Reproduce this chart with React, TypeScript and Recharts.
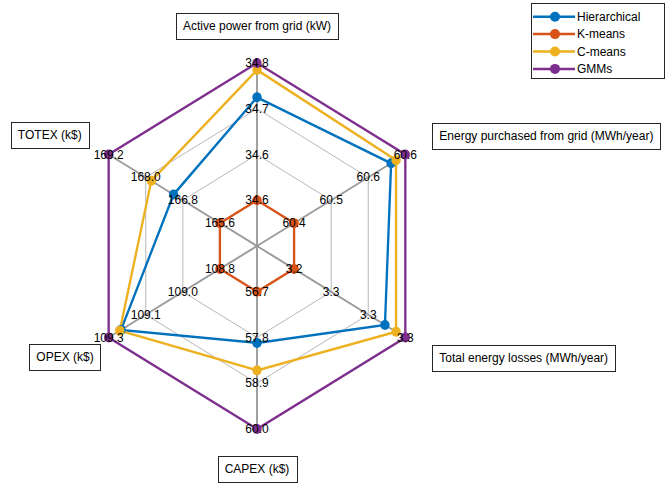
import { useLayoutEffect, useRef, useState } from "react";
import {
  Legend,
  PolarAngleAxis,
  PolarGrid,
  PolarRadiusAxis,
  Radar,
  RadarChart,
} from "recharts";

const axisTitles = [
  "Active power from grid (kW)",
  "Energy purchased from grid (MWh/year)",
  "Total energy losses (MWh/year)",
  "CAPEX (k$)",
  "OPEX (k$)",
  "TOTEX (k$)",
];

// value sitting on the first ring and on the outer ring of each axis
const axisMin = [34.57, 60.44, 3.22, 56.7, 108.82, 165.6];
const axisMax = [34.77, 60.62, 3.34, 60.0, 109.27, 169.2];

const tickLabels = [
  ["34.6", "34.6", "34.7", "34.8"],
  ["60.4", "60.5", "60.6", "60.6"],
  ["3.2", "3.3", "3.3", "3.3"],
  ["56.7", "57.8", "58.9", "60.0"],
  ["108.8", "109.0", "109.1", "109.3"],
  ["165.6", "166.8", "168.0", "169.2"],
];

const hierarchical = [34.72, 60.597, 3.318, 57.93, 109.22, 167.1];
const kMeans = [34.57, 60.44, 3.22, 56.7, 108.82, 165.6];
const cMeans = [34.76, 60.605, 3.33, 58.59, 109.225, 167.82];
const gmms = [34.77, 60.62, 3.34, 60.0, 109.27, 169.2];

const series = [
  { key: "Hierarchical", values: hierarchical, color: "#0072BD" },
  { key: "K-means", values: kMeans, color: "#D95319" },
  { key: "C-means", values: cMeans, color: "#EDB120" },
  { key: "GMMs", values: gmms, color: "#7E2F8E" },
];

const CX = 257;
const CY = 246;
const R = 183;
// the matlab figure is a bit narrower than a regular hexagon
const SQUISH = 0.936;
const FONT = '"Liberation Sans", Arial, Helvetica, sans-serif';

// where each boxed axis title sits relative to the outer vertex
const titlePlacement: { anchor: "start" | "middle" | "end"; dx: number; dy: number }[] = [
  { anchor: "middle", dx: 0, dy: -37 },
  { anchor: "start", dx: 27, dy: -19 },
  { anchor: "start", dx: 27, dy: 20.5 },
  { anchor: "middle", dx: 0, dy: 39.5 },
  { anchor: "end", dx: -8, dy: 19.5 },
  { anchor: "end", dx: -20, dy: -19.5 },
];

function toRing(axis: number, value: number) {
  return 1 + (3 * (value - axisMin[axis])) / (axisMax[axis] - axisMin[axis]);
}

const rows = axisTitles.map((title, i) => {
  const row: Record<string, string | number> = { axis: title };
  for (const s of series) {
    row[s.key] = toRing(i, s.values[i]);
  }
  return row;
});

function BoxedText({
  x,
  y,
  anchor,
  text,
}: {
  x: number;
  y: number;
  anchor: "start" | "middle" | "end";
  text: string;
}) {
  const ref = useRef<SVGTextElement>(null);
  const [width, setWidth] = useState(0);

  useLayoutEffect(() => {
    if (ref.current) setWidth(ref.current.getBBox().width);
  }, [text]);

  const padX = 7;
  const h = 26;
  const boxW = width + 2 * padX;
  const left =
    anchor === "start" ? x : anchor === "end" ? x - boxW : x - boxW / 2;

  return (
    <g>
      <rect
        x={Math.round(left) + 0.5}
        y={Math.round(y - h / 2) + 0.5}
        width={Math.round(boxW)}
        height={h}
        fill="#fff"
        stroke="#262626"
      />
      <text
        ref={ref}
        x={left + padX}
        y={y}
        dominantBaseline="central"
        fontSize={12}
        fontFamily={FONT}
        fill="#000"
      >
        {text}
      </text>
    </g>
  );
}

function AxisTick({ index }: { index: number }) {
  const angle = ((90 - index * 60) * Math.PI) / 180;
  const ux = Math.cos(angle) * SQUISH;
  const uy = -Math.sin(angle);
  const place = titlePlacement[index];

  return (
    <g>
      {tickLabels[index].map((label, k) => (
        <text
          key={k}
          x={CX + ((R * (k + 1)) / 4) * ux}
          y={CY + ((R * (k + 1)) / 4) * uy}
          textAnchor="middle"
          dominantBaseline="central"
          fontSize={12}
          fontFamily={FONT}
          fill="#000"
        >
          {label}
        </text>
      ))}
      <BoxedText
        x={CX + R * ux + place.dx}
        y={CY + R * uy + place.dy}
        anchor={place.anchor}
        text={axisTitles[index]}
      />
    </g>
  );
}

function LegendBox() {
  return (
    <svg width={134} height={76} style={{ display: "block" }}>
      <rect x={0.5} y={0.5} width={133} height={75} fill="#fff" stroke="#262626" />
      {series.map((s, i) => {
        const y = 13.7 + i * 17.4;
        return (
          <g key={s.key}>
            <line x1={2} x2={44} y1={y} y2={y} stroke={s.color} strokeWidth={2.5} />
            <circle cx={24} cy={y} r={5} fill={s.color} />
            <text
              x={46}
              y={y}
              dominantBaseline="central"
              fontSize={12}
              fontFamily={FONT}
              fill="#000"
            >
              {s.key}
            </text>
          </g>
        );
      })}
    </svg>
  );
}

export default function App() {
  return (
    <div
      className="spider"
      style={{
        position: "absolute",
        left: 0,
        top: 0,
        width: 666,
        height: 483,
        background: "#fff",
      }}
    >
      <style>{`
        .spider .recharts-polar-grid,
        .spider .recharts-radar,
        .spider .recharts-radar-dots:not(.recharts-radar .recharts-radar-dots) {
          transform: scaleX(${SQUISH});
          transform-origin: ${CX}px ${CY}px;
        }
      `}</style>
      <RadarChart
        width={666}
        height={483}
        cx={CX}
        cy={CY}
        outerRadius={R}
        data={rows}
        margin={{ top: 0, right: 0, bottom: 0, left: 0 }}
      >
        <PolarGrid
          gridType="polygon"
          polarRadius={[R / 4, R / 2, (3 * R) / 4, R]}
          radialLines={false}
          stroke="#b4b4b4"
          strokeWidth={1}
        />
        <PolarGrid
          gridType="polygon"
          polarRadius={[]}
          stroke="#9a9a9a"
          strokeWidth={2}
        />
        <PolarRadiusAxis domain={[0, 4]} tick={false} axisLine={false} />
        {series.map((s) => (
          <Radar
            dataKey={s.key}
            dot={{
              r: 5,
              fill: s.color,
              fillOpacity: 1,
              stroke: s.color,
              strokeWidth: 0,
            }}
            fill="none"
            fillOpacity={0}
            isAnimationActive={false}
            key={s.key}
            name={s.key}
            stroke={s.color}
            strokeWidth={2.5}
          />
        ))}
        <PolarAngleAxis
          dataKey="axis"
          axisLine={false}
          tickLine={false}
          tick={(props: any) => <AxisTick index={props.index} />}
          {...({ zIndex: 1500 } as any)}
        />
        <Legend
          content={() => <LegendBox />}
          wrapperStyle={{ position: "absolute", top: 3, left: 531, width: 134 }}
        />
      </RadarChart>
    </div>
  );
}
